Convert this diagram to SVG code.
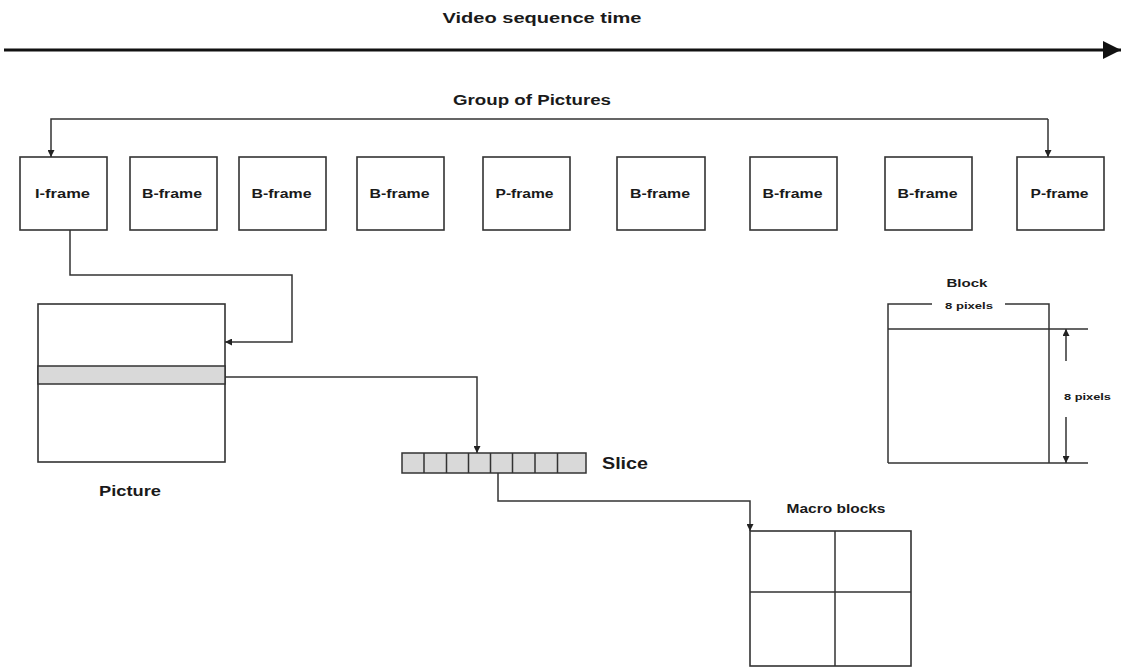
<svg xmlns="http://www.w3.org/2000/svg" width="1123" height="669" viewBox="0 0 1123 669">
  <style>
    .box { fill: #fff; stroke: #333; stroke-width: 1.6; }
    .ln { fill: none; stroke: #333; stroke-width: 1.5; }
    .t { font-family: "Liberation Sans", Arial, sans-serif; font-weight: bold; fill: #1a1a1a; text-anchor: middle; }
    .f { font-size: 13.5px; }
    .gray { fill: #d9d9d9; stroke: #333; stroke-width: 1.5; }
  </style>
  <defs>
    <marker id="ah" viewBox="0 0 10 10" refX="10" refY="5" markerWidth="7" markerHeight="7" markerUnits="userSpaceOnUse" orient="auto">
      <path d="M0,0 L10,5 L0,10 z" fill="#222"/>
    </marker>
    <marker id="ahBig" viewBox="0 0 10 10" refX="10" refY="5" markerWidth="6" markerHeight="6" orient="auto">
      <path d="M0,0 L10,5 L0,10 z" fill="#111"/>
    </marker>
  </defs>
  <rect width="1123" height="669" fill="#fff"/>

  <!-- time axis -->
  <g id="time-axis">
    <text class="t" x="542" y="23" font-size="15.5" textLength="199" lengthAdjust="spacingAndGlyphs">Video sequence time</text>
    <line x1="4" y1="50" x2="1121" y2="50" stroke="#111" stroke-width="3" marker-end="url(#ahBig)"/>
  </g>

  <!-- group of pictures label -->
  <g id="gop-label">
    <text class="t" x="532" y="105" font-size="14.5" textLength="158" lengthAdjust="spacingAndGlyphs">Group of Pictures</text>
  </g>

  <!-- frames -->
  <g id="frame-i"><rect class="box" x="20" y="157" width="87" height="73"/><text class="t f" x="62.5" y="198" textLength="55" lengthAdjust="spacingAndGlyphs">I-frame</text></g>
  <g id="frame-b1"><rect class="box" x="130" y="157" width="87" height="73"/><text class="t f" x="172" y="198" textLength="60" lengthAdjust="spacingAndGlyphs">B-frame</text></g>
  <g id="frame-b2"><rect class="box" x="239" y="157" width="87" height="73"/><text class="t f" x="281.5" y="198" textLength="60" lengthAdjust="spacingAndGlyphs">B-frame</text></g>
  <g id="frame-b3"><rect class="box" x="357" y="157" width="87" height="73"/><text class="t f" x="399.5" y="198" textLength="60" lengthAdjust="spacingAndGlyphs">B-frame</text></g>
  <g id="frame-p1"><rect class="box" x="483" y="157" width="87" height="73"/><text class="t f" x="524.5" y="198" textLength="58" lengthAdjust="spacingAndGlyphs">P-frame</text></g>
  <g id="frame-b4"><rect class="box" x="617" y="157" width="88" height="73"/><text class="t f" x="660" y="198" textLength="60" lengthAdjust="spacingAndGlyphs">B-frame</text></g>
  <g id="frame-b5"><rect class="box" x="750" y="157" width="87" height="73"/><text class="t f" x="792.5" y="198" textLength="60" lengthAdjust="spacingAndGlyphs">B-frame</text></g>
  <g id="frame-b6"><rect class="box" x="885" y="157" width="87" height="73"/><text class="t f" x="927.5" y="198" textLength="60" lengthAdjust="spacingAndGlyphs">B-frame</text></g>
  <g id="frame-p2"><rect class="box" x="1017" y="157" width="87" height="73"/><text class="t f" x="1059.5" y="198" textLength="58" lengthAdjust="spacingAndGlyphs">P-frame</text></g>

  <!-- picture -->
  <g id="picture">
    <rect class="box" x="38" y="304" width="187" height="158"/>
    <rect class="gray" x="38" y="366" width="187" height="18"/>
    <text class="t" x="130" y="496" font-size="14.5" textLength="62" lengthAdjust="spacingAndGlyphs">Picture</text>
  </g>

  <!-- slice -->
  <g id="slice">
    <rect class="gray" x="402" y="453" width="184" height="20"/>
    <path class="ln" d="M424,453 V473 M446.5,453 V473 M468.5,453 V473 M490.5,453 V473 M512.5,453 V473 M535,453 V473 M557.5,453 V473"/>
    <text class="t" x="625" y="469" font-size="16.5" textLength="46" lengthAdjust="spacingAndGlyphs">Slice</text>
  </g>

  <!-- macro blocks -->
  <g id="macro-blocks">
    <text class="t" x="836" y="513" font-size="12" textLength="99" lengthAdjust="spacingAndGlyphs">Macro blocks</text>
    <rect class="box" x="750" y="531" width="161" height="135"/>
    <path class="ln" d="M835,531 V666 M750,592 H911"/>
  </g>

  <!-- block -->
  <g id="block">
    <text class="t" x="967" y="287" font-size="11" textLength="41" lengthAdjust="spacingAndGlyphs">Block</text>
    <path class="ln" d="M888,463 V304 H932 M1005,304 H1049 V463"/>
    <text class="t" x="969" y="309" font-size="9.5" textLength="48" lengthAdjust="spacingAndGlyphs">8 pixels</text>
    <path class="ln" d="M888,329 H1088 M888,463 H1088"/>
    <line class="ln" x1="1066" y1="361" x2="1066" y2="329" marker-end="url(#ah)"/>
    <line class="ln" x1="1066" y1="417" x2="1066" y2="463" marker-end="url(#ah)"/>
    <text class="t" x="1087.5" y="400" font-size="9.5" textLength="47" lengthAdjust="spacingAndGlyphs">8 pixels</text>
  </g>

  <!-- connectors -->
  <g id="connectors">
    <path class="ln" d="M1048,119 H51 V157" marker-end="url(#ah)"/>
    <path class="ln" d="M1048,119 V157" marker-end="url(#ah)"/>
    <path class="ln" d="M70,230 V275 H292 V342 H225" marker-end="url(#ah)"/>
    <path class="ln" d="M225,377 H477 V453" marker-end="url(#ah)"/>
    <path class="ln" d="M498,473 V501 H750 V531" marker-end="url(#ah)"/>
  </g>
</svg>
